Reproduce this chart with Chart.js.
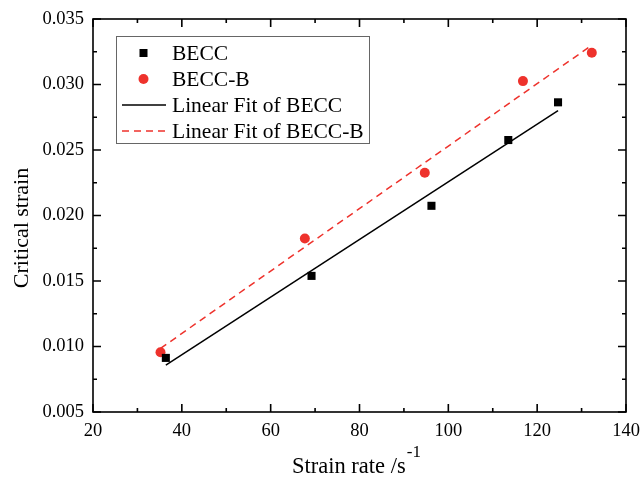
<!DOCTYPE html>
<html>
<head>
<meta charset="utf-8">
<script src="https://cdn.jsdelivr.net/npm/chart.js@4/dist/chart.umd.min.js"></script>
<style>
  html, body { margin: 0; padding: 0; background: #fff; }
  #wrap { width: 643px; height: 484px; position: relative; }
</style>
</head>
<body>
<div id="wrap"><canvas id="c" width="643" height="484"></canvas></div>
<script>
// ---- data ----
const beccX = [36.4, 69.2, 96.2, 113.5, 124.7];
const beccY = [0.00913, 0.01539, 0.02074, 0.02576, 0.02864];
const beccBX = [35.2, 67.7, 94.7, 116.8, 132.3];
const beccBY = [0.00956, 0.01825, 0.02326, 0.03026, 0.03243];
const fitX = [36.4, 124.7];
const fitY = [0.00857, 0.0280];
const fitBX = [35.2, 132.3];
const fitBY = [0.00985, 0.0330];
const xTicks = [20, 40, 60, 80, 100, 120, 140];
const yTicks = [0.005, 0.010, 0.015, 0.020, 0.025, 0.030, 0.035];
const seriesNames = ['BECC', 'BECC-B', 'Linear Fit of BECC', 'Linear Fit of BECC-B'];
const xTitle = 'Strain rate /s';
const xTitleSup = '-1';
const yTitle = 'Critical strain';

const RED = 'rgb(238,50,44)';
const FONT = '"Liberation Serif", "Times New Roman", serif';

const pts = (xs, ys) => xs.map((x, i) => ({ x: x, y: ys[i] }));

const frameTicks = {
  id: 'frameTicks',
  afterDraw(chart) {
    const ctx = chart.ctx, a = chart.chartArea;
    const xs = chart.scales.x, ys = chart.scales.y;
    ctx.save();
    ctx.strokeStyle = '#000';
    ctx.lineWidth = 1.6;
    ctx.strokeRect(a.left, a.top, a.right - a.left, a.bottom - a.top);
    for (let i = 0; i < xTicks.length; i++) {
      const v = xTicks[i];
      const list = [[v, 8]];
      if (i < xTicks.length - 1) list.push([(v + xTicks[i + 1]) / 2, 4]);
      for (const [val, len] of list) {
        const p = xs.getPixelForValue(val);
        ctx.beginPath();
        ctx.moveTo(p, a.bottom); ctx.lineTo(p, a.bottom - len);
        ctx.moveTo(p, a.top); ctx.lineTo(p, a.top + len);
        ctx.stroke();
      }
    }
    for (let i = 0; i < yTicks.length; i++) {
      const v = yTicks[i];
      const list = [[v, 8]];
      if (i < yTicks.length - 1) list.push([(v + yTicks[i + 1]) / 2, 4]);
      for (const [val, len] of list) {
        const p = ys.getPixelForValue(val);
        ctx.beginPath();
        ctx.moveTo(a.left, p); ctx.lineTo(a.left + len, p);
        ctx.moveTo(a.right, p); ctx.lineTo(a.right - len, p);
        ctx.stroke();
      }
    }
    // axis titles
    ctx.fillStyle = '#000';
    ctx.textBaseline = 'middle';
    ctx.font = '22.5px ' + FONT;
    const w1 = ctx.measureText(xTitle).width;
    const sx = 292;
    ctx.textAlign = 'left';
    ctx.fillText(xTitle, sx, 467);
    ctx.font = '17px ' + FONT;
    ctx.fillText(xTitleSup, sx + w1 + 1, 453);
    ctx.save();
    ctx.translate(22, 228);
    ctx.rotate(-Math.PI / 2);
    ctx.font = '22px ' + FONT;
    ctx.textAlign = 'center';
    ctx.fillText(yTitle, 0, 0);
    ctx.restore();

    // legend box
    const L = 116, T = 36, R = 369, B = 143;
    ctx.fillStyle = '#fff';
    ctx.fillRect(L, T, R - L, B - T);
    ctx.strokeStyle = '#666';
    ctx.lineWidth = 1;
    ctx.strokeRect(L + 0.5, T + 0.5, R - L, B - T);
    const rows = [53, 79, 105, 131];
    const mx = 143.5, tx = 172;
    ctx.fillStyle = '#000';
    ctx.fillRect(mx - 4, rows[0] - 4, 8, 8);
    ctx.fillStyle = RED;
    ctx.beginPath(); ctx.arc(mx, rows[1], 5, 0, Math.PI * 2); ctx.fill();
    ctx.strokeStyle = '#000'; ctx.lineWidth = 1.5;
    ctx.beginPath(); ctx.moveTo(122, rows[2]); ctx.lineTo(166, rows[2]); ctx.stroke();
    ctx.strokeStyle = RED; ctx.setLineDash([7, 5]);
    ctx.beginPath(); ctx.moveTo(122, rows[3]); ctx.lineTo(166, rows[3]); ctx.stroke();
    ctx.setLineDash([]);
    ctx.fillStyle = '#000';
    ctx.font = '21.5px ' + FONT;
    ctx.textAlign = 'left';
    ctx.textBaseline = 'middle';
    for (let i = 0; i < 4; i++) ctx.fillText(seriesNames[i], tx, rows[i] + 1);
    ctx.restore();
  }
};

new Chart(document.getElementById('c'), {
  type: 'scatter',
  data: {
    datasets: [
      { label: seriesNames[0], data: pts(beccX, beccY), pointStyle: 'rect', pointRadius: 5.7,
        backgroundColor: '#000', borderColor: '#000', borderWidth: 0, showLine: false },
      { label: seriesNames[1], data: pts(beccBX, beccBY), pointStyle: 'circle', pointRadius: 5,
        backgroundColor: RED, borderColor: RED, borderWidth: 0, showLine: false },
      { label: seriesNames[2], data: pts(fitX, fitY), showLine: true, pointRadius: 0,
        borderColor: '#000', borderWidth: 1.5, fill: false },
      { label: seriesNames[3], data: pts(fitBX, fitBY), showLine: true, pointRadius: 0,
        borderColor: RED, borderWidth: 1.5, borderDash: [7, 5], fill: false }
    ]
  },
  options: {
    responsive: false,
    animation: false,
    events: [],
    layout: { padding: { left: 0, right: 17, top: 19, bottom: 0 } },
    plugins: { legend: { display: false }, tooltip: { enabled: false } },
    scales: {
      x: {
        type: 'linear', min: 20, max: 140,
        afterBuildTicks: (s) => { s.ticks = xTicks.map(v => ({ value: v })); },
        afterFit: (s) => { s.height = 72; s.paddingLeft = 0; s.paddingRight = 0; },
        grid: { display: false, drawTicks: false },
        border: { display: false },
        ticks: { color: '#000', padding: 8, font: { family: FONT, size: 18.5 }, maxRotation: 0,
                 callback: (v) => String(v) }
      },
      y: {
        type: 'linear', min: 0.005, max: 0.035,
        afterBuildTicks: (s) => { s.ticks = yTicks.map(v => ({ value: v })); },
        afterFit: (s) => { s.width = 93; s.paddingTop = 0; s.paddingBottom = 0; },
        grid: { display: false, drawTicks: false },
        border: { display: false },
        ticks: { color: '#000', padding: 9, font: { family: FONT, size: 18.5 },
                 callback: (v) => Number(v).toFixed(3) }
      }
    }
  },
  plugins: [frameTicks]
});
</script>
</body>
</html>
